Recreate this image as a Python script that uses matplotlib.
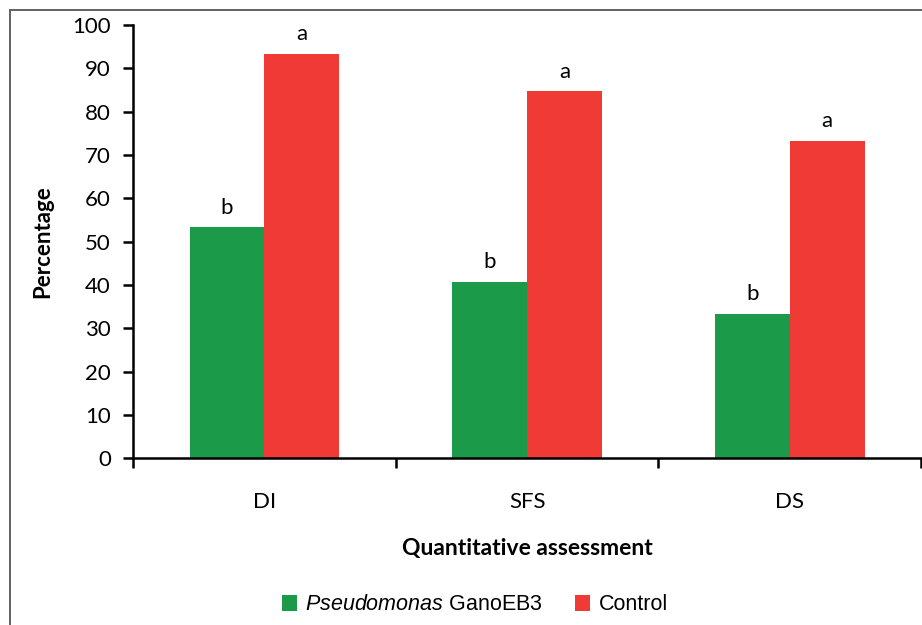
import matplotlib
matplotlib.use("Agg")
import matplotlib.pyplot as plt
import matplotlib.patches as mpatches
import numpy as np

# disease measures and percentages per treatment
categories = ["DI", "SFS", "DS"]
pseudomonas = [53.3, 40.7, 33.3]
control = [93.3, 84.7, 73.3]
pseudo_letters = ["b", "b", "b"]
control_letters = ["a", "a", "a"]

plt.rcParams["font.family"] = ["Lato", "DejaVu Sans"]
plt.rcParams["mathtext.fontset"] = "custom"
plt.rcParams["mathtext.it"] = "Liberation Sans:italic"
plt.rcParams["mathtext.rm"] = "Liberation Sans"

GREEN = "#1b9a4a"
RED = "#ef3a35"

fig = plt.figure(figsize=(9.22, 6.25), dpi=100)
ax = fig.add_axes([0.1443, 0.2667, 0.8547, 0.6933])

x = np.arange(len(categories))
w = 0.285
b1 = ax.bar(x - w / 2, pseudomonas, w, color=GREEN,
            label=r"$\it{Pseudomonas}$ GanoEB3")
b2 = ax.bar(x + w / 2, control, w, color=RED, label="Control")

# significance letters above each bar
for bars, letters in [(b1, pseudo_letters), (b2, control_letters)]:
    for rect, lab in zip(bars, letters):
        ax.annotate(lab, (rect.get_x() + rect.get_width() / 2, rect.get_height()),
                    xytext=(0, 7), textcoords="offset points",
                    ha="center", va="bottom", fontsize=16)

ax.set_xlim(-0.5, len(categories) - 0.5)
ax.set_ylim(0, 100)
ax.set_yticks(range(0, 101, 10))
ax.tick_params(axis="y", labelsize=16, length=7, width=1.8, direction="out", pad=9)

# tick marks between categories, labels centred on the groups
ax.set_xticks(np.arange(-0.5, len(categories), 1.0))
ax.set_xticklabels([])
ax.set_xticks(x, minor=True)
ax.set_xticklabels(categories, minor=True)
ax.tick_params(axis="x", which="major", length=7, width=1.8, direction="out")
ax.tick_params(axis="x", which="minor", length=0, labelsize=16, pad=24)

for side in ["top", "right"]:
    ax.spines[side].set_visible(False)
for side in ["left", "bottom"]:
    ax.spines[side].set_linewidth(1.8)

ax.set_ylabel("Percentage", fontsize=16, fontweight="bold", labelpad=14)
ax.set_xlabel("Quantitative assessment", fontsize=16.5, fontweight="bold", labelpad=19)

fig.legend(handles=[b1, b2], loc="center", bbox_to_anchor=(0.515, 0.032),
           ncol=2, frameon=False, handlelength=0.7, handleheight=0.7,
           handletextpad=0.4, columnspacing=1.5,
           prop={"family": "Liberation Sans", "size": 15.5})

# outer frame (top and left edges visible)
frame = mpatches.Rectangle((0.0108, -0.1), 2.0, 0.984 + 0.1, transform=fig.transFigure,
                           fill=False, edgecolor="#555555", linewidth=1.3, clip_on=False)
fig.add_artist(frame)

fig.savefig("out.png", dpi=100)
